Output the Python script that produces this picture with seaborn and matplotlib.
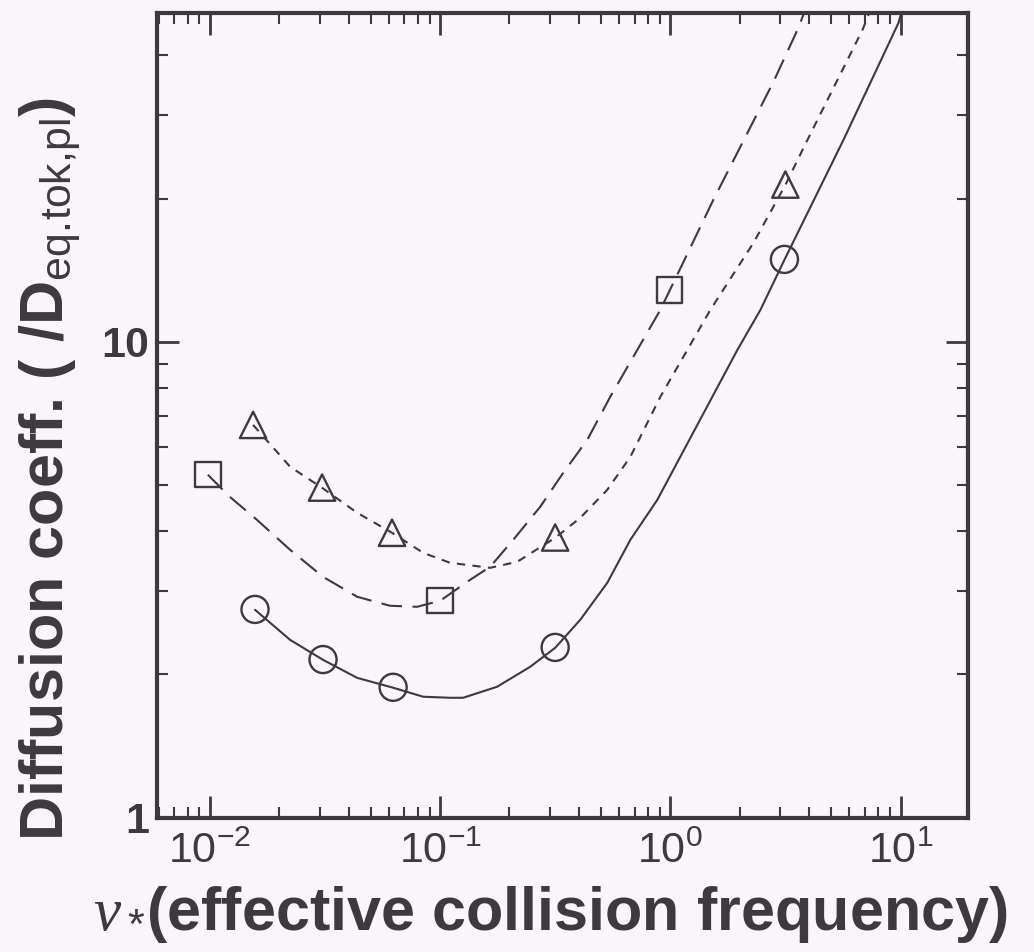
import numpy as np
import matplotlib
matplotlib.use("Agg")
import matplotlib.pyplot as plt
import matplotlib.ticker as mticker
import seaborn as sns

# measured points
nu_circle = [0.0157, 0.031, 0.0625, 0.316, 3.13]
d_circle = [2.74, 2.15, 1.88, 2.28, 14.9]
nu_square = [0.0098, 0.1, 0.99]
d_square = [5.26, 2.86, 12.86]
nu_tri = [0.0154, 0.0307, 0.0618, 0.316, 3.16]
d_tri = [6.69, 4.94, 3.97, 3.88, 21.4]

# fitted curves
nu_solid = [0.0157, 0.0223, 0.0310, 0.0436, 0.0625, 0.0844, 0.1105, 0.1259, 0.1769,
            0.2461, 0.3162, 0.4062, 0.5323, 0.6703, 0.8781, 1.956, 2.462, 3.131,
            5.652, 9.80, 10.3]
d_solid = [2.735, 2.365, 2.147, 1.968, 1.876, 1.796, 1.787, 1.787, 1.885,
           2.076, 2.276, 2.606, 3.117, 3.837, 4.657, 9.62, 11.67, 14.87,
           26.57, 46.8, 51.1]
nu_dash = [0.0098, 0.0122, 0.0160, 0.0223, 0.0310, 0.0436, 0.0606, 0.0794, 0.100,
           0.1350, 0.1650, 0.2077, 0.2721, 0.3425, 0.4357, 0.5483, 0.9048, 1.538,
           2.804, 3.566, 3.942]
d_dash = [5.256, 4.725, 4.227, 3.656, 3.208, 2.913, 2.789, 2.775, 2.857,
          3.162, 3.368, 3.837, 4.502, 5.305, 6.225, 7.664, 11.67, 19.88,
          35.17, 45.24, 51.1]
nu_dot = [0.0154, 0.0223, 0.0307, 0.0436, 0.0618, 0.0844, 0.1105, 0.1650, 0.2162,
          0.3162, 0.4062, 0.5323, 0.6703, 0.9048, 1.492, 2.296, 3.162, 3.942,
          6.836, 7.555]
d_dot = [6.69, 5.464, 4.935, 4.373, 3.970, 3.603, 3.433, 3.351, 3.450,
         3.875, 4.268, 4.888, 5.733, 7.664, 11.67, 16.14, 21.37, 26.57,
         45.24, 51.1]

INK = "#3c3a3c"
BG = "#f8f6f8"

sns.set_style("ticks")
plt.rcParams["font.family"] = ["Liberation Sans", "DejaVu Sans"]
plt.rcParams["mathtext.fontset"] = "custom"
plt.rcParams["mathtext.rm"] = "Liberation Sans"
plt.rcParams["mathtext.it"] = "Liberation Serif:italic"
plt.rcParams["mathtext.bf"] = "Liberation Sans:bold"

fig = plt.figure(figsize=(10.34, 9.52), dpi=100, facecolor=BG)
ax = fig.add_axes([0.152, 0.141, 0.784, 0.845])
ax.set_facecolor(BG)

lw = 1.5
sns.lineplot(x=nu_solid, y=d_solid, ax=ax, color=INK, lw=lw, sort=False, estimator=None)
sns.lineplot(x=nu_dash, y=d_dash, ax=ax, color=INK, lw=lw, sort=False, estimator=None,
             linestyle=(0, (10, 5)))
sns.lineplot(x=nu_dot, y=d_dot, ax=ax, color=INK, lw=lw, sort=False, estimator=None,
             linestyle=(0, (4, 3.5)))

for xs, ys, m, s in [(nu_circle, d_circle, "o", 380), (nu_square, d_square, "s", 340),
                     (nu_tri, d_tri, "^", 360)]:
    sns.scatterplot(x=xs, y=ys, ax=ax, marker=m, s=s, facecolor="none",
                    edgecolor=INK, linewidth=1.7, zorder=3)

ax.set_xscale("log")
ax.set_yscale("log")
ax.set_xlim(5.9e-3, 19.6)
ax.set_ylim(1, 49)

ax.xaxis.set_major_locator(mticker.LogLocator(base=10))
ax.xaxis.set_minor_locator(mticker.LogLocator(base=10, subs=np.arange(2, 10)))
ax.xaxis.set_minor_formatter(mticker.NullFormatter())
ax.yaxis.set_major_locator(mticker.FixedLocator([1, 10]))
ax.yaxis.set_major_formatter(mticker.FixedFormatter(["1", "10"]))
ax.yaxis.set_minor_locator(mticker.LogLocator(base=10, subs=np.arange(2, 10)))
ax.yaxis.set_minor_formatter(mticker.NullFormatter())

ax.tick_params(which="both", direction="in", top=True, right=True, color=INK)
ax.tick_params(which="major", length=16, width=2)
ax.tick_params(which="minor", length=8, width=1.5)
ax.tick_params(axis="x", labelsize=31, labelcolor=INK, pad=10)
ax.tick_params(axis="y", labelsize=31, labelcolor=INK, pad=6)
for t in ax.get_yticklabels():
    t.set_fontweight("bold")
for sp in ax.spines.values():
    sp.set_linewidth(3)
    sp.set_color(INK)

ax.set_xlabel(r"$\nu\,_{*}$(effective collision frequency)", fontsize=44,
              fontweight="bold", color=INK)
ax.xaxis.set_label_coords(0.5 + (550 - 562) / 811, -0.082)
ax.set_ylabel(r"Diffusion coeff. ( /D$_{\mathrm{eq.\!tok{,}pl}}$)", fontsize=44,
              fontweight="bold", color=INK)
ax.yaxis.set_label_coords(-0.091, 0.434)

fig.savefig("out.png", dpi=100, facecolor=BG)
